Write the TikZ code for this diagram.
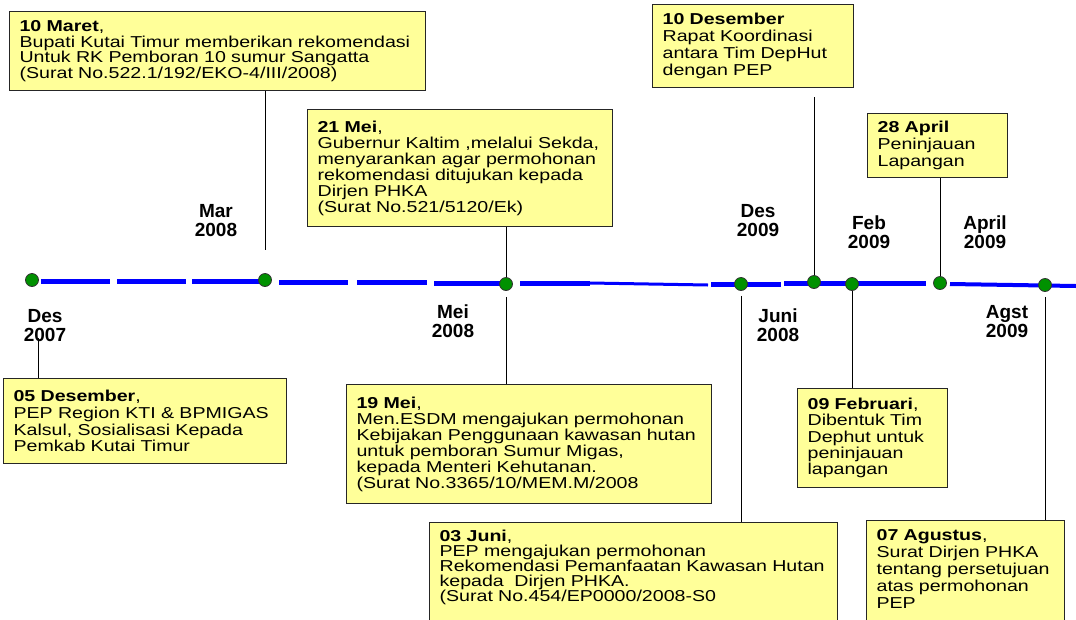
\documentclass[tikz,border=0pt]{standalone}
\usepackage{fontspec}
\setmainfont{Liberation Sans}[FakeStretch=1.24]
\newfontfamily\bulanfont{Liberation Sans}
\definecolor{kuning}{RGB}{255,255,153}
\definecolor{hijau}{RGB}{0,145,0}
\newcommand{\isi}[1]{\fontsize{15.8}{#1}\selectfont\lineskiplimit=-20pt}
\tikzset{
  kotak/.style={draw=black!85, line width=1.2pt, fill=kuning, anchor=north west, align=left, inner xsep=10pt, inner ysep=2pt},
  titik/.style={circle, draw=black!80, fill=hijau, minimum size=13pt, inner sep=0pt, line width=0.8pt},
  bulan/.style={font=\bulanfont\fontsize{19}{19}\selectfont\bfseries, align=center, inner sep=0pt},
  garis/.style={line width=0.9pt},
  garisbiru/.style={blue, line width=5pt}
}
\begin{document}
\begin{tikzpicture}[x=1pt,y=1pt,yscale=-1]
\useasboundingbox (0,0) rectangle (1076,619);
\clip (0,0) rectangle (1076,619);
%Shape: Rectangle [kotak atas]
\node[kotak, text width=396pt, minimum height=79pt, font=\isi{15.5}] (maret) at (9,11) {\textbf{10 Maret},\\Bupati Kutai Timur memberikan rekomendasi\\Untuk RK Pemboran 10 sumur Sangatta\\(Surat No.522.1/192/EKO-4/III/2008)};
\node[kotak, text width=285pt, minimum height=117pt, font=\isi{16}] (mei21) at (307,109) {\textbf{21 Mei},\\Gubernur Kaltim ,melalui Sekda,\\menyarankan agar permohonan\\rekomendasi ditujukan kepada\\Dirjen PHKA\\(Surat No.521/5120/Ek)};
\node[kotak, text width=181pt, minimum height=83pt, font=\isi{16.9}] (des10) at (652,4) {\textbf{10 Desember}\\Rapat Koordinasi\\antara Tim DepHut\\dengan PEP};
\node[kotak, text width=120pt, minimum height=64pt, font=\isi{17}] (apr28) at (867,113) {\textbf{28 April}\\Peninjauan\\Lapangan};
%Shape: Rectangle [kotak bawah]
\node[kotak, text width=263pt, minimum height=85pt, font=\isi{16.7}] (des05) at (3,378) {\textbf{05 Desember},\\PEP Region KTI \& BPMIGAS\\Kalsul, Sosialisasi Kepada\\Pemkab Kutai Timur};
\node[kotak, text width=345pt, minimum height=119pt, font=\isi{16}] (mei19) at (346,384) {\textbf{19 Mei},\\Men.ESDM mengajukan permohonan\\Kebijakan Penggunaan kawasan hutan\\untuk pemboran Sumur Migas,\\kepada Menteri Kehutanan.\\(Surat No.3365/10/MEM.M/2008};
\node[kotak, text width=130pt, minimum height=99pt, font=\isi{16.3}] (feb09) at (797,388) {\textbf{09 Februari},\\Dibentuk Tim\\Dephut untuk\\peninjauan\\lapangan};
\node[kotak, text width=388pt, inner ysep=7pt, font=\isi{15.2}] (juni03) at (429,522) {\textbf{03 Juni},\\PEP mengajukan permohonan\\Rekomendasi Pemanfaatan Kawasan Hutan\\kepada\ \ Dirjen PHKA.\\(Surat No.454/EP0000/2008-S0\rule[-20pt]{0pt}{0pt}};
\node[kotak, text width=178pt, inner ysep=9pt, font=\isi{17}] (agst07) at (866,520) {\textbf{07 Agustus},\\Surat Dirjen PHKA\\tentang persetujuan\\atas permohonan\\PEP\rule[-20pt]{0pt}{0pt}};
% garis waktu
\foreach \a/\b/\y in {41/110/281, 117/186/281, 192/262/281, 279/348/282, 357/427/282, 434/503/283, 520/590/283, 711/781/284, 784/926/283}
  \draw[garisbiru] (\a,\y) -- (\b,\y);
\draw[blue, line width=3pt] (590,283) -- (708,285);
\draw[blue, line width=4pt] (950,284) -- (1076,286);
% titik
\node[titik] (d1) at (32,280) {};
\node[titik] (d2) at (265,280) {};
\node[titik] (d3) at (506,284) {};
\node[titik] (d4) at (741,284) {};
\node[titik] (d5) at (814,282) {};
\node[titik] (d6) at (852,284) {};
\node[titik] (d7) at (940,283) {};
\node[titik] (d8) at (1045,285) {};
% Text Node
\node[bulan] (lbdes07) at (45,326) {Des\\2007};
\node[bulan] (lbmar08) at (216,221) {Mar\\2008};
\node[bulan] (lbmei08) at (453,321) {Mei\\2008};
\node[bulan] (lbdes09) at (758,221) {Des\\2009};
\node[bulan] (lbfeb09) at (869,232) {Feb\\2009};
\node[bulan] (lbapr09) at (985,232) {April\\2009};
\node[bulan] (lbjun08) at (778,325) {Juni\\2008};
\node[bulan] (lbags09) at (1007,322) {Agst\\2009};
% penghubung
\coordinate (ujungmar) at (265,250);
\coordinate (ujungdes) at (38,338);
\draw[garis] (ujungmar |- maret.south) -- (ujungmar);
\draw[garis] (d3) -- (d3 |- mei21.south);
\draw[garis, shorten >=9pt] (d5) -- (d5 |- des10.south);
\draw[garis] (d7) -- (d7 |- apr28.south);
\draw[garis] (ujungdes) -- (ujungdes |- des05.north);
\draw[garis, shorten <=6pt] (d3) -- (d3 |- mei19.north);
\draw[garis, shorten <=5pt] (d4) -- (d4 |- juni03.north);
\draw[garis] (d6) -- (d6 |- feb09.north);
\draw[garis, shorten <=5pt] (d8) -- (d8 |- agst07.north);
\end{tikzpicture}
\end{document}
